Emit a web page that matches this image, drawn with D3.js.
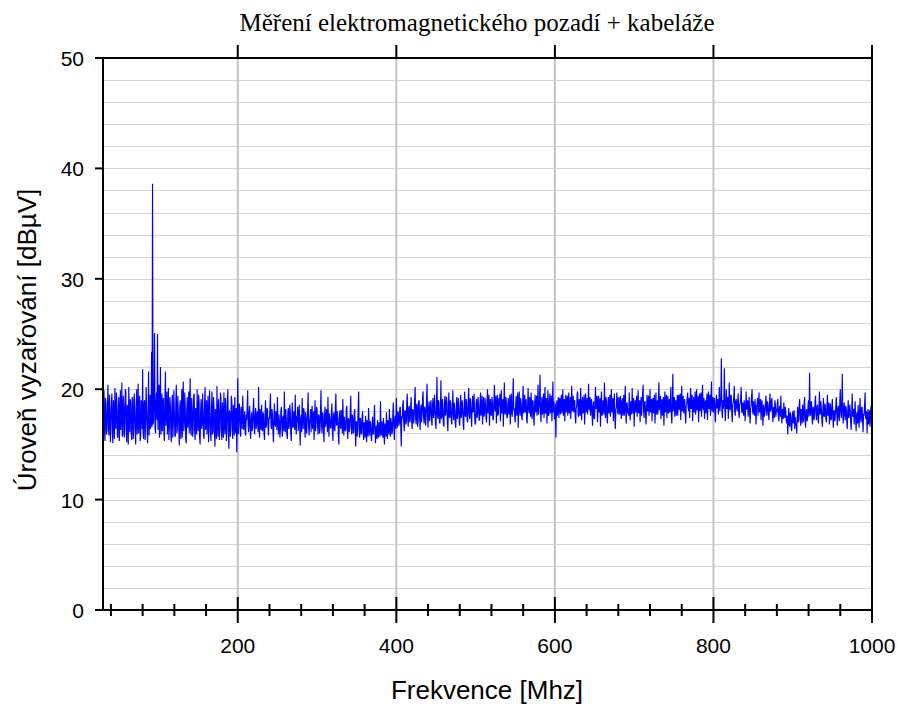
<!DOCTYPE html>
<html>
<head>
<meta charset="utf-8">
<script src="https://cdn.jsdelivr.net/npm/d3@7"></script>
<style>
  body { margin: 0; background: #fff; }
  svg { display: block; }
</style>
</head>
<body>
<svg id="chart" width="900" height="707"></svg>
<script>
// Texts
const chartTitle = "Měření elektromagnetického pozadí + kabeláže";
const xAxisTitle = "Frekvence [Mhz]";
const yAxisTitle = "Úroveň vyzařování [dBµV]";

// Frequency sweep: 30 MHz to 1000 MHz in 0.625 MHz steps
const freqStartMHz = 30;
const freqStepMHz = 0.625;

// Measured level per sweep step [dBµV], 20 steps (12.5 MHz) per row
const levelDbuV = [
  17.6,15.4,19.9,17.0,15.3,19.2,18.7,15.9,16.2,18.3,20.4,16.6,15.8,19.5,18.1,15.2,16.9,18.9,19.6,16.0,
  15.1,19.0,17.8,15.5,20.1,16.9,16.4,19.7,18.9,15.8,15.6,18.2,19.3,15.3,17.0,19.9,16.3,17.6,20.6,15.7,
  15.9,19.4,18.4,15.6,16.7,20.0,19.8,16.3,15.2,18.6,17.5,15.0,20.2,17.4,16.1,19.1,18.8,16.0,15.4,19.3,
  19.1,15.5,16.6,19.6,18.2,16.2,15.0,18.5,20.0,15.9,17.3,20.5,16.0,17.9,19.4,15.3,15.7,19.0,18.6,16.4,
  21.8,16.1,15.5,18.8,19.0,15.4,16.8,20.2,18.3,16.5,15.1,18.0,21.6,15.8,17.2,19.5,16.4,17.0,23.4,16.6,
  38.6,16.8,17.1,19.3,25.1,16.4,16.0,18.9,19.7,17.2,25.0,16.3,18.5,20.4,15.6,18.1,22.0,15.9,17.4,19.6,
  16.2,18.7,19.2,16.0,15.3,19.0,21.6,16.7,17.7,19.8,15.9,17.5,20.1,15.4,16.5,19.3,18.6,16.1,15.2,18.4,
  19.5,15.6,16.9,19.9,18.0,15.8,15.7,18.9,20.4,16.0,16.3,19.4,17.9,16.6,14.9,18.5,19.0,15.5,17.2,20.0,
  15.6,19.1,20.7,16.2,16.8,19.7,18.4,15.4,15.1,18.2,19.3,16.5,17.5,19.8,16.0,18.6,21.0,16.3,15.8,19.2,
  18.2,15.7,16.5,19.4,19.6,16.1,15.4,18.3,17.7,15.9,20.0,17.1,16.2,19.5,18.8,15.6,15.0,18.0,19.1,16.4,
  16.7,19.6,18.0,15.8,15.5,18.7,20.2,16.3,17.1,19.0,15.9,17.7,19.4,15.2,16.4,19.9,17.8,16.1,15.3,18.5,
  19.8,15.9,16.1,19.3,18.5,16.0,14.8,18.2,17.6,15.5,20.3,16.8,15.7,19.1,18.1,15.4,16.6,19.7,19.2,16.2,
  15.4,18.8,17.3,15.6,19.7,16.9,15.9,19.2,18.4,15.3,16.2,18.9,20.0,16.4,14.6,18.1,17.9,15.7,16.8,19.4,
  18.9,16.2,15.5,18.6,17.4,15.8,19.3,16.6,16.0,18.3,14.3,17.5,21.0,15.9,16.9,18.7,18.2,16.0,15.7,18.4,
  17.6,16.4,19.4,17.8,16.3,17.1,18.0,16.0,15.8,17.7,17.2,18.4,19.9,16.7,16.1,17.9,18.5,16.5,15.5,17.3,
  17.9,16.2,16.6,18.1,19.2,16.9,15.9,17.5,18.3,16.4,16.8,18.0,17.4,16.1,20.2,17.0,15.6,18.2,17.0,16.3,
  18.6,16.8,16.2,17.9,17.7,16.0,15.4,17.6,19.0,16.5,16.9,18.3,18.1,16.6,15.8,17.4,17.3,18.5,19.6,16.7,
  16.4,18.2,17.8,16.1,15.2,17.3,18.7,16.8,16.6,18.0,17.5,16.3,19.3,17.2,15.9,17.7,17.1,15.6,16.3,18.1,
  18.4,16.5,15.7,17.4,17.6,16.2,19.8,17.0,16.1,18.2,17.2,15.9,15.5,17.8,18.3,16.4,16.8,18.6,17.9,16.0,
  15.3,17.5,18.8,16.6,16.5,18.0,17.4,16.3,19.5,17.1,15.9,17.6,17.0,18.4,16.2,17.3,18.6,16.7,14.9,17.2,
  17.7,16.1,19.2,17.4,16.4,18.3,18.0,16.5,15.6,17.9,17.3,16.0,16.8,18.1,19.7,16.6,15.8,17.0,17.5,18.2,
  16.1,17.6,18.5,16.4,17.2,18.0,15.4,17.1,19.0,16.2,16.7,18.4,18.2,16.9,15.9,17.7,17.6,16.0,16.3,18.1,
  19.9,16.8,16.0,17.9,17.8,16.3,15.2,17.4,18.4,16.6,16.9,18.2,17.3,16.1,19.3,17.0,15.7,17.8,17.1,16.5,
  16.5,17.9,18.7,16.2,15.3,17.6,17.9,16.4,16.2,18.3,19.6,16.7,16.8,18.0,17.4,15.8,15.0,17.3,18.1,16.6,
  16.4,18.1,17.7,16.0,19.1,17.2,15.8,17.5,17.0,16.2,16.3,18.2,18.5,16.5,15.5,17.4,17.2,16.1,16.6,18.0,
  19.4,16.6,15.9,17.7,17.5,16.0,16.1,17.8,18.2,16.4,14.8,17.1,17.0,15.7,16.7,18.3,19.8,16.2,15.6,17.4,
  17.3,15.9,16.0,17.5,18.0,16.3,15.4,17.0,16.8,15.6,17.6,16.4,15.2,17.2,16.5,15.7,18.3,16.8,15.8,17.1,
  16.9,15.8,15.3,16.6,17.5,15.9,16.0,17.3,18.6,16.2,15.1,16.5,16.7,15.5,17.2,16.1,15.6,17.0,16.4,15.7,
  18.9,16.3,15.8,17.1,16.3,15.6,17.4,16.0,15.0,16.9,16.8,15.7,17.9,16.4,15.5,17.2,16.6,15.9,18.2,16.5,
  15.7,17.4,17.0,15.9,16.2,17.8,18.8,16.6,15.4,17.3,17.6,16.4,19.2,17.1,16.5,18.0,17.8,16.7,16.9,18.3,
  18.4,16.5,14.8,17.6,17.3,18.6,19.0,16.9,16.2,18.0,18.1,16.8,17.0,18.7,19.6,17.2,16.6,18.3,18.5,17.0,
  17.2,18.4,19.3,17.0,16.4,18.2,18.0,16.9,17.5,19.1,20.2,17.3,16.8,18.5,18.7,16.6,17.1,18.9,19.0,17.4,
  16.3,18.1,18.6,17.0,17.7,19.2,19.8,17.5,16.9,18.4,18.2,16.7,17.4,19.0,20.5,17.6,16.5,18.3,18.9,17.1,
  17.6,18.7,19.0,17.2,16.7,18.5,19.2,17.4,17.9,19.5,18.4,16.9,16.4,18.6,21.1,17.7,17.3,19.0,18.8,17.0,
  16.9,18.2,20.8,17.3,17.5,19.1,18.3,16.8,16.6,18.5,19.4,17.6,17.8,19.3,18.9,17.0,16.2,18.4,19.7,17.5,
  17.4,19.0,18.6,17.1,16.8,18.3,19.9,17.7,17.2,18.8,18.1,16.9,16.5,18.2,19.3,17.3,17.7,19.2,18.4,17.0,
  16.7,18.5,19.5,17.4,17.9,19.0,18.2,16.8,16.3,18.6,19.8,17.6,17.5,19.1,18.7,17.2,17.0,18.9,20.1,17.8,
  17.3,19.2,18.9,17.5,16.6,18.4,19.4,17.9,18.0,19.6,17.6,16.8,16.9,18.7,19.1,17.4,17.8,19.3,18.5,17.2,
  17.2,18.8,19.7,17.6,18.1,19.4,16.8,18.3,19.3,17.5,17.9,19.2,18.6,17.4,17.0,18.9,20.0,17.8,18.3,19.5,
  16.7,18.6,19.1,17.7,17.6,19.3,18.8,17.2,17.3,19.0,20.4,18.2,18.0,19.4,16.9,18.5,19.5,17.6,17.8,19.2,
  18.5,19.6,17.1,18.4,19.9,17.8,18.2,19.1,16.6,18.7,20.6,17.9,17.7,19.3,18.9,17.5,17.4,18.6,19.2,17.7,
  18.0,19.5,16.8,18.2,19.6,17.9,17.5,19.0,21.0,18.1,18.3,17.4,17.0,18.8,19.4,17.6,18.1,19.7,16.5,18.4,
  19.8,18.0,17.6,19.2,18.7,17.5,17.2,18.9,20.3,17.8,18.4,19.5,17.9,18.3,19.1,17.3,16.9,18.6,20.1,18.2,
  17.8,19.3,18.6,17.5,19.7,18.1,17.3,19.0,18.9,17.6,16.7,18.5,19.5,17.9,18.0,19.4,17.6,18.8,20.4,17.7,
  18.2,19.1,21.3,17.9,17.0,18.6,19.3,17.7,18.7,19.6,17.4,18.3,20.2,17.8,18.1,19.2,16.9,18.4,19.9,17.6,
  17.7,19.0,19.6,17.8,18.3,19.4,17.1,18.5,20.7,17.9,18.9,17.3,17.5,18.7,15.6,18.0,19.0,17.6,18.2,19.3,
  17.4,18.9,19.2,17.7,18.6,19.5,17.8,18.4,20.0,17.6,18.3,19.1,17.1,18.5,19.5,17.9,18.8,19.4,17.6,18.7,
  19.7,17.8,18.1,19.3,17.3,18.6,20.3,18.0,18.5,19.4,17.9,18.8,19.0,17.5,16.9,18.3,18.4,19.6,19.8,17.7,
  17.5,19.1,18.7,17.6,20.1,18.4,17.2,18.9,19.3,17.8,18.0,19.5,16.8,18.3,19.6,17.9,18.2,19.2,17.7,18.6,
  20.5,18.1,18.4,19.3,17.6,18.8,19.1,17.7,16.7,18.5,18.9,17.4,17.3,19.0,20.2,18.2,18.6,19.4,17.0,18.3,
  19.4,17.9,18.1,19.2,16.6,18.4,19.8,17.6,17.8,19.0,18.5,17.7,20.6,18.6,17.4,19.3,18.9,17.5,16.9,18.8,
  19.3,17.8,18.2,19.5,17.5,18.6,20.0,17.9,18.7,19.2,17.1,18.4,19.6,17.6,16.4,18.1,18.3,19.7,19.1,17.7,
  17.9,19.3,18.6,17.7,19.4,18.2,17.3,18.9,19.2,17.6,18.0,19.5,17.6,18.4,20.3,18.1,16.9,18.7,18.8,17.8,
  18.3,17.6,19.7,18.0,17.2,18.9,18.5,17.7,20.1,18.3,17.8,19.2,16.6,18.2,19.0,17.9,18.4,19.4,17.5,18.6,
  19.9,17.8,18.2,19.0,17.0,18.5,19.3,17.6,18.7,19.6,20.4,18.1,17.4,18.8,18.9,17.7,16.8,18.4,19.5,18.0,
  18.1,19.4,17.6,18.6,20.0,17.9,18.4,19.1,17.1,18.7,19.2,17.8,18.8,19.5,16.9,18.2,19.7,17.7,18.3,19.0,
  17.7,19.2,20.6,18.1,18.5,19.4,17.3,18.8,19.1,17.6,18.0,19.3,16.7,18.4,19.8,17.9,18.6,19.5,17.4,18.7,
  19.4,17.8,18.2,19.1,17.9,18.6,20.2,17.7,16.9,18.5,21.4,18.0,18.7,19.3,17.5,18.9,19.0,17.6,18.1,19.5,
  17.6,19.0,19.5,18.1,18.9,19.6,17.2,18.7,20.3,18.0,18.4,19.4,17.8,18.6,19.1,17.9,16.9,18.5,18.6,19.3,
  19.7,18.3,18.0,19.2,17.4,18.9,20.1,18.2,18.8,19.5,17.1,18.6,19.3,17.9,18.5,19.8,17.7,18.4,20.0,18.1,
  18.2,19.4,17.0,18.6,19.6,18.0,18.9,19.7,17.5,18.8,20.4,18.3,18.1,19.2,17.3,18.5,19.0,17.8,18.7,19.6,
  17.2,18.9,19.8,18.2,18.4,19.5,17.6,18.8,20.7,18.1,18.0,19.3,17.9,18.6,19.2,17.7,17.0,18.7,19.5,18.3,
  18.3,19.1,17.7,18.9,20.2,18.0,18.6,19.4,22.8,18.1,17.4,19.0,18.2,18.7,21.9,18.4,17.1,18.8,20.0,18.2,
  18.5,19.3,17.3,18.7,20.6,18.2,18.1,19.5,19.4,17.9,17.0,18.6,18.8,19.2,20.3,18.0,17.6,18.9,19.1,18.3,
  18.0,18.9,19.6,17.9,17.4,18.6,18.7,19.3,20.2,18.1,17.8,18.8,18.3,17.6,19.0,18.4,17.1,18.5,19.8,18.2,
  18.2,19.0,17.5,18.4,19.3,17.8,16.9,18.3,18.6,19.4,20.0,18.1,17.7,18.9,18.4,17.6,19.1,18.0,16.8,18.5,
  18.5,19.2,17.6,18.4,19.7,17.9,18.0,19.1,17.2,18.2,19.0,17.7,16.7,18.6,18.3,17.5,17.9,18.8,19.4,18.1,
  17.6,18.9,18.7,17.8,17.2,18.5,19.6,18.0,18.1,19.0,19.2,17.9,17.0,18.3,18.4,17.4,19.0,18.6,17.5,18.2,
  17.9,18.7,19.1,17.6,17.1,18.3,18.5,17.5,19.4,17.8,16.9,18.1,18.2,17.3,18.8,17.7,17.4,18.4,18.0,17.2,
  16.9,17.6,15.9,17.2,18.3,16.8,16.6,17.9,17.7,16.5,16.2,17.4,18.0,16.9,17.3,18.1,16.4,17.5,17.0,16.7,
  16.0,17.3,18.4,17.0,17.2,18.5,19.1,17.6,16.7,18.2,17.9,16.9,18.6,17.8,17.0,18.7,19.3,17.4,16.5,18.0,
  18.2,17.1,17.4,18.6,19.0,17.5,21.5,18.1,17.6,18.8,18.9,17.3,16.8,18.4,18.3,17.2,17.7,18.9,19.4,17.8,
  17.2,18.3,18.6,17.4,16.9,18.5,19.8,17.7,17.8,18.9,18.1,17.0,16.6,18.2,19.2,17.6,17.5,18.7,18.4,17.3,
  17.0,18.4,19.5,17.6,17.9,18.8,16.8,17.7,18.7,17.2,17.3,18.5,19.1,17.4,16.5,18.1,18.0,17.1,17.6,18.6,
  19.3,17.8,16.7,18.2,18.5,17.5,17.1,18.9,20.0,17.9,17.4,18.4,21.4,17.7,16.9,18.3,18.8,17.6,17.2,18.5,
  18.3,17.2,16.4,18.0,19.0,17.4,17.7,18.6,18.1,17.0,16.3,17.8,19.6,17.6,17.5,18.2,16.8,17.9,18.9,17.3,
  16.2,17.7,17.9,16.9,18.6,17.5,16.5,18.1,19.2,17.3,17.0,18.3,18.4,17.1,16.1,17.8,17.6,18.5,19.7,17.4,
  17.3,18.0,16.0,17.5,18.2,16.8,17.1,18.1,16.6,17.7,18.5,17.2,17.4
];

// Axis ticks and grid
const xMajorTicks = [200, 400, 600, 800, 1000];
const xMinorTicks = [40, 80, 120, 160, 240, 280, 320, 360, 440, 480, 520, 560,
                     640, 680, 720, 760, 840, 880, 920, 960];
const xGridTicks = [200, 400, 600, 800];
const yMajorTicks = [0, 10, 20, 30, 40, 50];
const yGridTicks = [2, 4, 6, 8, 10, 12, 14, 16, 18, 20, 22, 24, 26, 28, 30,
                    32, 34, 36, 38, 40, 42, 44, 46, 48];

const spectrum = levelDbuV.map((v, i) => ({ f: freqStartMHz + i * freqStepMHz, v }));

const plot = { left: 103, right: 872, top: 58, bottom: 610 };
const svg = d3.select("#chart");

const x = d3.scaleLinear().domain([30, 1000]).range([plot.left, plot.right]);
const y = d3.scaleLinear().domain([0, 50]).range([plot.bottom, plot.top]);

const sans = "'Liberation Sans', Arial, sans-serif";

// Horizontal grid lines
svg.append("g")
  .selectAll("line")
  .data(yGridTicks)
  .join("line")
  .attr("x1", plot.left).attr("x2", plot.right)
  .attr("y1", d => Math.round(y(d)) + 0.5).attr("y2", d => Math.round(y(d)) + 0.5)
  .attr("stroke", "#d4d4d4").attr("stroke-width", 1.2);

// Vertical grid lines at major frequencies
svg.append("g")
  .selectAll("line")
  .data(xGridTicks)
  .join("line")
  .attr("x1", d => x(d)).attr("x2", d => x(d))
  .attr("y1", plot.top).attr("y2", plot.bottom)
  .attr("stroke", "#c4c4c4").attr("stroke-width", 2);

// Spectrum trace
const line = d3.line().x(d => x(d.f)).y(d => y(d.v));
svg.append("path")
  .datum(spectrum)
  .attr("fill", "none")
  .attr("stroke", "#0000ff")
  .attr("stroke-width", 1.15)
  .attr("d", line);

// Frame
svg.append("rect")
  .attr("x", plot.left).attr("y", plot.top)
  .attr("width", plot.right - plot.left).attr("height", plot.bottom - plot.top)
  .attr("fill", "none").attr("stroke", "#000").attr("stroke-width", 2);

// Bottom axis: crossing major and minor ticks
const bottom = svg.append("g").attr("stroke", "#000").attr("stroke-width", 2);
bottom.selectAll("line.major")
  .data(xMajorTicks).join("line").attr("class", "major")
  .attr("x1", d => x(d)).attr("x2", d => x(d))
  .attr("y1", plot.bottom - 13).attr("y2", plot.bottom + 13);
bottom.selectAll("line.minor")
  .data(xMinorTicks).join("line").attr("class", "minor")
  .attr("x1", d => x(d)).attr("x2", d => x(d))
  .attr("y1", plot.bottom - 6).attr("y2", plot.bottom + 6);

// Top axis: outward major ticks
svg.append("g").attr("stroke", "#000").attr("stroke-width", 2)
  .selectAll("line")
  .data(xMajorTicks).join("line")
  .attr("x1", d => x(d)).attr("x2", d => x(d))
  .attr("y1", plot.top - 13).attr("y2", plot.top);

// Left axis: outward major ticks
svg.append("g").attr("stroke", "#000").attr("stroke-width", 2)
  .selectAll("line")
  .data(yMajorTicks).join("line")
  .attr("x1", plot.left - 8).attr("x2", plot.left)
  .attr("y1", d => y(d)).attr("y2", d => y(d));

// Tick labels
svg.append("g")
  .selectAll("text")
  .data(xMajorTicks).join("text")
  .attr("x", d => x(d)).attr("y", 653)
  .attr("text-anchor", "middle")
  .attr("font-family", sans).attr("font-size", 21)
  .text(d => d);

svg.append("g")
  .selectAll("text")
  .data(yMajorTicks).join("text")
  .attr("x", 84).attr("y", d => y(d) + 8)
  .attr("text-anchor", "end")
  .attr("font-family", sans).attr("font-size", 21)
  .text(d => d);

// Titles
svg.append("text")
  .attr("x", 477).attr("y", 31)
  .attr("text-anchor", "middle")
  .attr("font-family", "'Liberation Serif', 'Times New Roman', serif")
  .attr("font-size", 25)
  .text(chartTitle);

svg.append("text")
  .attr("x", 487).attr("y", 699)
  .attr("text-anchor", "middle")
  .attr("font-family", sans).attr("font-size", 26)
  .text(xAxisTitle);

svg.append("text")
  .attr("transform", "translate(36,340) rotate(-90)")
  .attr("text-anchor", "middle")
  .attr("font-family", sans).attr("font-size", 26)
  .text(yAxisTitle);
</script>
</body>
</html>
